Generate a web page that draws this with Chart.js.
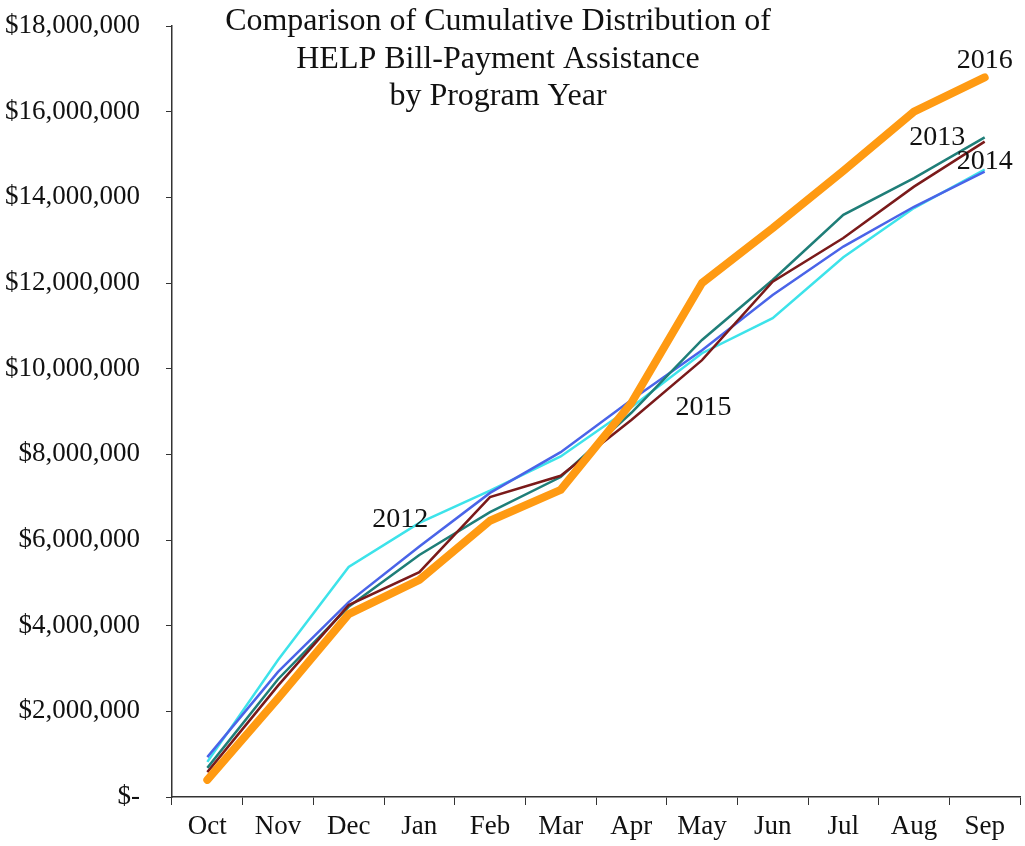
<!DOCTYPE html>
<html>
<head>
<meta charset="utf-8">
<script src="https://cdn.jsdelivr.net/npm/chart.js@4/dist/chart.umd.min.js"></script>
<style>
  html, body { margin: 0; padding: 0; background: #fff; }
  #wrap { width: 1025px; height: 846px; position: relative; }
</style>
</head>
<body>
<div id="wrap"><canvas id="helpChart"></canvas></div>
<script>
const months = ['Oct', 'Nov', 'Dec', 'Jan', 'Feb', 'Mar', 'Apr', 'May', 'Jun', 'Jul', 'Aug', 'Sep'];

// cumulative dollars distributed
const year2012 = [820000, 3200000, 5370000, 6400000, 7150000, 7950000, 9100000, 10360000, 11180000, 12600000, 13750000, 14650000];
const year2013 = [680000, 2750000, 4440000, 5650000, 6650000, 7470000, 8970000, 10670000, 12070000, 13590000, 14450000, 15400000];
const year2014 = [930000, 2920000, 4550000, 5850000, 7100000, 8050000, 9270000, 10430000, 11720000, 12850000, 13780000, 14600000];
const year2015 = [580000, 2600000, 4480000, 5250000, 7000000, 7500000, 8800000, 10200000, 12030000, 13050000, 14250000, 15300000];
const year2016 = [400000, 2300000, 4270000, 5070000, 6450000, 7170000, 9200000, 12000000, 13280000, 14620000, 16000000, 16800000];

const yTicks = [0, 2000000, 4000000, 6000000, 8000000, 10000000, 12000000, 14000000, 16000000, 18000000];

const titleLines = ['Comparison of Cumulative Distribution of', 'HELP Bill-Payment Assistance', 'by Program Year'];

// year labels placed on the chart: [text, month position, dollar value]
const yearLabels = [
  ['2012', 2.73, 6470000],
  ['2013', 10.33, 15390000],
  ['2014', 11.0, 14830000],
  ['2015', 7.02, 9100000],
  ['2016', 11.0, 17200000]
];

const serif = '"Liberation Serif", "Times New Roman", serif';

function thinLine(label, data, color) {
  return {
    label: label,
    data: data,
    borderColor: color,
    borderWidth: 2.5,
    pointRadius: 0,
    tension: 0,
    fill: false
  };
}

const textPlugin = {
  id: 'textPlugin',
  afterDatasetsDraw(chart) {
    const ctx = chart.ctx;
    const x = chart.scales.x;
    const y = chart.scales.y;
    ctx.save();
    ctx.fillStyle = '#111';
    ctx.textAlign = 'center';
    ctx.textBaseline = 'middle';
    ctx.font = '32px ' + serif;
    const cx = 498;
    titleLines.forEach((line, i) => {
      ctx.fillText(line, cx, chart.chartArea.top - 4 + i * 37.5);
    });
    ctx.font = '28px ' + serif;
    yearLabels.forEach(l => {
      ctx.fillText(l[0], x.getPixelForValue(l[1]), y.getPixelForValue(l[2]));
    });
    ctx.restore();
  }
};

const ctx = document.getElementById('helpChart').getContext('2d');
new Chart(ctx, {
  type: 'line',
  data: {
    labels: months,
    datasets: [
      {
        label: '2016',
        data: year2016,
        borderColor: '#FF9A12',
        borderWidth: 8,
        borderCapStyle: 'round',
        borderJoinStyle: 'round',
        pointRadius: 0,
        tension: 0,
        fill: false
      },
      thinLine('2015', year2015, '#7A1A1A'),
      thinLine('2013', year2013, '#1F7E78'),
      thinLine('2014', year2014, '#4A64E8'),
      thinLine('2012', year2012, '#3DE3EA')
    ]
  },
  options: {
    responsive: true,
    maintainAspectRatio: false,
    animation: false,
    layout: { padding: { left: 0, right: 5, top: 26, bottom: 0 } },
    plugins: {
      legend: { display: false },
      title: { display: false },
      tooltip: { enabled: false }
    },
    scales: {
      x: {
        offset: true,
        grid: {
          offset: true,
          drawOnChartArea: false,
          drawTicks: true,
          tickLength: 8,
          color: '#333'
        },
        border: { color: '#333', width: 1.5 },
        ticks: {
          color: '#111',
          padding: 6,
          maxRotation: 0,
          font: { family: serif, size: 27 }
        },
        afterFit(scale) { scale.height = 49; }
      },
      y: {
        min: 0,
        max: 18000000,
        afterBuildTicks(scale) {
          scale.ticks = yTicks.map(v => ({ value: v }));
        },
        grid: {
          drawOnChartArea: false,
          drawTicks: true,
          tickLength: 6,
          color: '#333'
        },
        border: { color: '#333', width: 1.5 },
        ticks: {
          color: '#111',
          padding: 26,
          font: { family: serif, size: 27 },
          callback: v => v === 0 ? '$-' : '$' + v.toLocaleString('en-US')
        },
        afterFit(scale) {
          scale.width = 172;
          scale.paddingTop = 0;
          scale.paddingBottom = 0;
        }
      }
    }
  },
  plugins: [textPlugin]
});
</script>
</body>
</html>
